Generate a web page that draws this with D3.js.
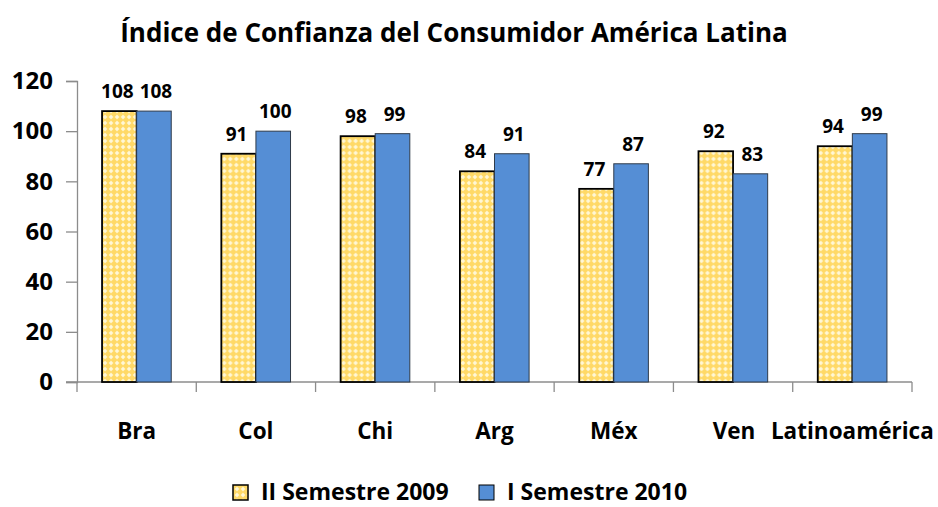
<!DOCTYPE html>
<html>
<head>
<meta charset="utf-8">
<script src="https://cdn.jsdelivr.net/npm/d3@7"></script>
<style>
  body { margin: 0; background: #fff; }
  text { font-family: "Open Sans", Lato, sans-serif; font-weight: bold; fill: #000; }
</style>
</head>
<body>
<script>
var width = 938,
	height = 507;

var categories = ["Bra", "Col", "Chi", "Arg", "Méx", "Ven", "Latinoamérica"];
var series = ["II Semestre 2009", "I Semestre 2010"];
var values2009 = [108, 91, 98, 84, 77, 92, 94];
var values2010 = [108, 100, 99, 91, 87, 83, 99];
var yTicks = [0, 20, 40, 60, 80, 100, 120];

var data = categories.map(function(c, i) {
	return { cat: c, vals: [values2009[i], values2010[i]] };
});

var margin = { left: 77, right: 26, top: 81, bottom: 125 };

var svg = d3.select("body")
	.append("svg")
	.attr("width", width)
	.attr("height", height);

// yellow pattern like Excel's trellis fill
var defs = svg.append("defs");
var pat = defs.append("pattern")
	.attr("id", "yellowPat")
	.attr("patternUnits", "userSpaceOnUse")
	.attr("width", 6)
	.attr("height", 6);
pat.append("rect").attr("width", 6).attr("height", 6).attr("fill", "#ffd966");
pat.append("path")
	.attr("d", "M3,0.6 L5.4,3 L3,5.4 L0.6,3 Z")
	.attr("fill", "#fff5cc");
pat.append("rect").attr("x", 2.5).attr("y", 2.5).attr("width", 1).attr("height", 1).attr("fill", "#ffffff");

var x = d3.scaleBand()
	.domain(categories)
	.range([margin.left, width - margin.right])
	.padding(0);

var barW = x.bandwidth() * 0.29;

var y = d3.scaleLinear()
	.domain([0, 120])
	.range([height - margin.bottom, margin.top]);

// title
svg.append("text")
	.attr("x", 454)
	.attr("y", 42)
	.attr("text-anchor", "middle")
	.style("font-size", "26px")
	.text("Índice de Confianza del Consumidor América Latina");

// y axis
var yAxis = svg.append("g")
	.attr("transform", "translate(" + margin.left + ",0)")
	.call(d3.axisLeft(y).tickValues(yTicks).tickSize(11).tickPadding(13));
yAxis.select(".domain").attr("stroke", "#8c8c8c").attr("stroke-width", 1.3);
yAxis.selectAll(".tick line").attr("stroke", "#8c8c8c").attr("stroke-width", 1.3);
yAxis.selectAll("text").style("font-size", "24px").style("font-family", "'Open Sans', sans-serif").attr("font-weight", "bold");

// x axis
var xg = svg.append("g")
	.attr("transform", "translate(0," + y(0) + ")");
xg.append("line")
	.attr("x1", margin.left - 11).attr("x2", x.range()[1])
	.attr("stroke", "#8c8c8c").attr("stroke-width", 1.3);
xg.selectAll(".xtick")
	.data(categories.concat([null]))
	.enter().append("line")
	.attr("x1", function(d, i) { return margin.left + i * x.step(); })
	.attr("x2", function(d, i) { return margin.left + i * x.step(); })
	.attr("y1", 0).attr("y2", 10)
	.attr("stroke", "#8c8c8c").attr("stroke-width", 1.3);
xg.selectAll(".xlab")
	.data(categories)
	.enter().append("text")
	.attr("x", function(d) { return x(d) + x.bandwidth() / 2 + (d === "Ven" ? 1 : 0); })
	.attr("y", 57)
	.attr("text-anchor", "middle")
	.style("font-size", "22.5px")
	.text(function(d) { return d; });

// bars
var groups = svg.selectAll(".grp")
	.data(data)
	.enter().append("g")
	.attr("transform", function(d) { return "translate(" + (x(d.cat) + x.bandwidth() / 2 - barW) + ",0)"; });

groups.selectAll("rect")
	.data(function(d) { return d.vals; })
	.enter().append("rect")
	.attr("x", function(d, i) { return i * barW; })
	.attr("y", function(d) { return y(d); })
	.attr("width", barW)
	.attr("height", function(d) { return y(0) - y(d); })
	.attr("fill", function(d, i) { return i === 0 ? "url(#yellowPat)" : "#558ed5"; })
	.attr("stroke", function(d, i) { return i === 0 ? "#000" : "#2f3b4a"; })
	.attr("stroke-width", function(d, i) { return i === 0 ? 1.8 : 1; });

groups.selectAll(".lab")
	.data(function(d) { return d.vals; })
	.enter().append("text")
	.attr("x", function(d, i) { return i * barW + barW / 2 + (i === 0 ? -2 : 2); })
	.attr("y", function(d) { return y(d) - 13; })
	.attr("text-anchor", "middle")
	.style("font-size", "19px")
	.text(function(d) { return d; });

// legend
var legend = svg.append("g");
var legX = [233, 479];
series.forEach(function(s, i) {
	legend.append("rect")
		.attr("x", legX[i]).attr("y", 485)
		.attr("width", 15).attr("height", 15)
		.attr("fill", i === 0 ? "url(#yellowPat)" : "#558ed5")
		.attr("stroke", "#000").attr("stroke-width", i === 0 ? 1.5 : 1);
	legend.append("text")
		.attr("x", legX[i] + 28).attr("y", 500)
		.style("font-size", "23px")
		.text(s);
});
</script>
</body>
</html>
